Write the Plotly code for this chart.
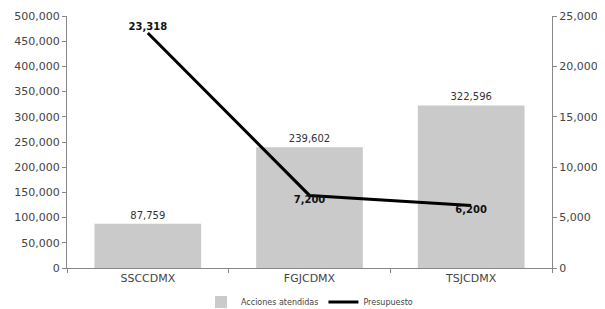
import plotly.graph_objects as go

categories = ["SSCCDMX", "FGJCDMX", "TSJCDMX"]
acciones = [87759, 239602, 322596]
presupuesto = [23318, 7200, 6200]
left_ticks = [0, 50000, 100000, 150000, 200000, 250000, 300000, 350000, 400000, 450000, 500000]
right_ticks = [0, 5000, 10000, 15000, 20000, 25000]

FONT = "DejaVu Sans"
GRAY = "#444444"

fig = go.Figure()
fig.add_trace(go.Bar(
    x=categories, y=acciones, name="Acciones atendidas",
    marker=dict(color="#cacaca", line=dict(width=0)),
    text=[f"{v:,}" for v in acciones], textposition="outside",
    textfont=dict(family=FONT, size=10, color="#333333"),
    cliponaxis=False,
))
fig.add_trace(go.Scatter(
    x=categories, y=presupuesto, name="Presupuesto", yaxis="y2",
    mode="lines+text", line=dict(color="black", width=3),
    text=[f"<b>{v:,}</b>" for v in presupuesto],
    textposition=["top center", "bottom center", "bottom center"],
    textfont=dict(family=FONT, size=10, color="#111111"),
    cliponaxis=False,
))

fig.update_layout(
    width=597, height=301,
    margin=dict(l=59, r=53, t=8, b=41, autoexpand=False),
    paper_bgcolor="white", plot_bgcolor="white",
    font=dict(family=FONT, size=10, color=GRAY),
    bargap=0.34,
    showlegend=True,
    legend=dict(orientation="h", x=0.5, xanchor="center", y=-0.135, yanchor="middle",
                font=dict(size=8, color=GRAY), tracegroupgap=0,
                bgcolor="rgba(0,0,0,0)"),
    xaxis=dict(showline=True, linecolor="#888888", linewidth=1,
               ticks="outside", ticklen=4, tickcolor="#888888", tickson="boundaries",
               tickfont=dict(size=11, color=GRAY), showgrid=False),
    yaxis=dict(range=[0, 500000], tickvals=left_ticks,
               ticktext=[f"{v:,}" for v in left_ticks],
               showline=True, linecolor="#888888", linewidth=1,
               ticks="outside", ticklen=4, tickcolor="#888888",
               showgrid=False, zeroline=False,
               tickfont=dict(size=11, color=GRAY)),
    yaxis2=dict(range=[0, 25000], tickvals=right_ticks,
                ticktext=[f"{v:,}" for v in right_ticks],
                overlaying="y", side="right",
                showline=True, linecolor="#888888", linewidth=1,
                ticks="outside", ticklen=4, tickcolor="#888888",
                showgrid=False, zeroline=False,
                tickfont=dict(size=11, color=GRAY)),
)

fig.write_html("out.html")
